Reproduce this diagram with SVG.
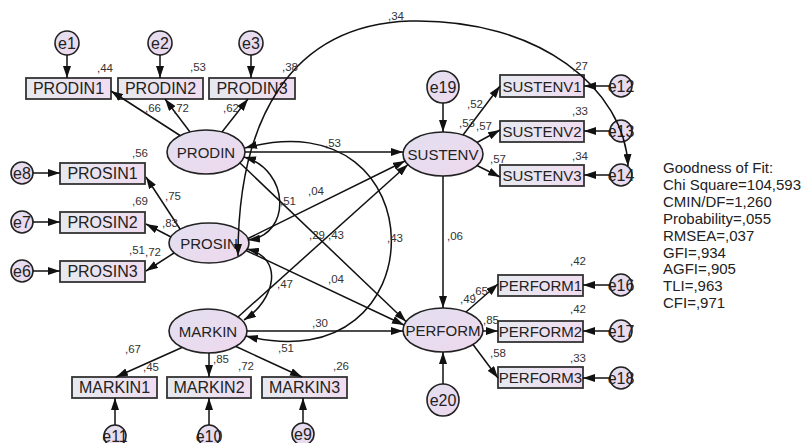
<svg xmlns="http://www.w3.org/2000/svg" width="803" height="443" viewBox="0 0 803 443">
<style>
text{font-family:"Liberation Sans",Arial,sans-serif;fill:#222}
.box{fill:url(#gb);stroke:#333;stroke-width:1.8}
.lat{fill:url(#ge);stroke:#222;stroke-width:1.6}
.err{fill:url(#ge);stroke:#222;stroke-width:1.6}
.bt{font-size:16px;text-anchor:middle;dominant-baseline:central}
.bt2{font-size:15px;text-anchor:middle;dominant-baseline:central}
.lt{font-size:15px;text-anchor:middle;dominant-baseline:central}
.et{font-size:16px;text-anchor:middle;dominant-baseline:central}
.lb{font-size:11.5px;fill:#333}
.gf{font-size:15px;fill:#222}
.c{fill:none;stroke:#111;stroke-width:1.5;marker-end:url(#ah)}
.cv{fill:none;stroke:#111;stroke-width:1.5;marker-end:url(#ah);marker-start:url(#ah)}
</style>
<defs>
<linearGradient id="gb" x1="0" y1="0" x2="1" y2="0"><stop offset="0" stop-color="#e6e9ef"/><stop offset="1" stop-color="#f0dcf0"/></linearGradient>
<linearGradient id="ge" x1="0" y1="0" x2="1" y2="1"><stop offset="0" stop-color="#e2e0f0"/><stop offset="1" stop-color="#efd8ee"/></linearGradient>
<marker id="ah" viewBox="0 0 12 8" refX="12" refY="4" markerWidth="12" markerHeight="8" markerUnits="userSpaceOnUse" orient="auto-start-reverse"><path d="M0,0 L12,4 L0,8 z" fill="#111"/></marker>
</defs>

<g id="nodes">
<g id="PRODIN1"><rect class="box" x="26" y="78" width="85" height="21"/><text class="bt" x="68.5" y="88.5">PRODIN1</text></g>
<g id="PRODIN2"><rect class="box" x="118" y="78" width="85" height="21"/><text class="bt" x="160.5" y="88.5">PRODIN2</text></g>
<g id="PRODIN3"><rect class="box" x="209" y="78" width="86" height="21"/><text class="bt" x="252" y="88.5">PRODIN3</text></g>
<g id="e1"><circle class="err" cx="67" cy="43" r="12"/><text class="et" x="67" y="43">e1</text></g>
<g id="e2"><circle class="err" cx="160" cy="43" r="12"/><text class="et" x="160" y="43">e2</text></g>
<g id="e3"><circle class="err" cx="251" cy="43" r="12"/><text class="et" x="251" y="43">e3</text></g>

<g id="PROSIN1"><rect class="box" x="60" y="163" width="85" height="21"/><text class="bt" x="102.5" y="173.5">PROSIN1</text></g>
<g id="PROSIN2"><rect class="box" x="60" y="212" width="85" height="21"/><text class="bt" x="102.5" y="222.5">PROSIN2</text></g>
<g id="PROSIN3"><rect class="box" x="60" y="261" width="85" height="21"/><text class="bt" x="102.5" y="271.5">PROSIN3</text></g>
<g id="e8"><circle class="err" cx="22" cy="173" r="11"/><text class="et" x="22" y="173">e8</text></g>
<g id="e7"><circle class="err" cx="22" cy="222" r="11"/><text class="et" x="22" y="222">e7</text></g>
<g id="e6"><circle class="err" cx="22" cy="271" r="11"/><text class="et" x="22" y="271">e6</text></g>

<g id="MARKIN1"><rect class="box" x="72" y="377" width="85" height="21"/><text class="bt" x="114.5" y="387.5">MARKIN1</text></g>
<g id="MARKIN2"><rect class="box" x="167" y="377" width="84" height="21"/><text class="bt" x="209" y="387.5">MARKIN2</text></g>
<g id="MARKIN3"><rect class="box" x="262" y="377" width="85" height="21"/><text class="bt" x="304.5" y="387.5">MARKIN3</text></g>
<g id="e11"><circle class="err" cx="115" cy="436" r="11"/><text class="et" x="115" y="436">e11</text></g>
<g id="e10"><circle class="err" cx="209" cy="436" r="11"/><text class="et" x="209" y="436">e10</text></g>
<g id="e9"><circle class="err" cx="303" cy="434" r="11"/><text class="et" x="303" y="434">e9</text></g>

<g id="SUSTENV1"><rect class="box" x="500" y="75" width="84" height="22"/><text class="bt2" x="542" y="86">SUSTENV1</text></g>
<g id="SUSTENV2"><rect class="box" x="500" y="121" width="84" height="21"/><text class="bt2" x="542" y="131.5">SUSTENV2</text></g>
<g id="SUSTENV3"><rect class="box" x="500" y="165" width="84" height="21"/><text class="bt2" x="542" y="175.5">SUSTENV3</text></g>
<g id="e12"><circle class="err" cx="621" cy="86" r="11"/><text class="et" x="621" y="86">e12</text></g>
<g id="e13"><circle class="err" cx="621" cy="131" r="11"/><text class="et" x="621" y="131">e13</text></g>
<g id="e14"><circle class="err" cx="621" cy="175" r="11"/><text class="et" x="621" y="175">e14</text></g>

<g id="PERFORM1"><rect class="box" x="498" y="275" width="85" height="21"/><text class="bt2" x="540.5" y="285.5">PERFORM1</text></g>
<g id="PERFORM2"><rect class="box" x="498" y="321" width="85" height="21"/><text class="bt2" x="540.5" y="331.5">PERFORM2</text></g>
<g id="PERFORM3"><rect class="box" x="498" y="367" width="85" height="21"/><text class="bt2" x="540.5" y="377.5">PERFORM3</text></g>
<g id="e16"><circle class="err" cx="621" cy="285" r="11"/><text class="et" x="621" y="285">e16</text></g>
<g id="e17"><circle class="err" cx="621" cy="331" r="11"/><text class="et" x="621" y="331">e17</text></g>
<g id="e18"><circle class="err" cx="621" cy="378" r="11"/><text class="et" x="621" y="378">e18</text></g>

<g id="PRODIN"><ellipse class="lat" cx="206" cy="152" rx="39" ry="22"/><text class="lt" x="206" y="152">PRODIN</text></g>
<g id="PROSIN"><ellipse class="lat" cx="209" cy="243" rx="40" ry="20"/><text class="lt" x="209" y="243">PROSIN</text></g>
<g id="MARKIN"><ellipse class="lat" cx="208" cy="331" rx="39" ry="22"/><text class="lt" x="208" y="331">MARKIN</text></g>
<g id="SUSTENV"><ellipse class="lat" cx="443" cy="154" rx="40" ry="22"/><text class="lt" x="443" y="154">SUSTENV</text></g>
<g id="PERFORM"><ellipse class="lat" cx="443" cy="330" rx="40" ry="22"/><text class="lt" x="443" y="330">PERFORM</text></g>
<g id="e19"><circle class="err" cx="443" cy="87" r="16"/><text class="et" x="443" y="87">e19</text></g>
<g id="e20"><circle class="err" cx="443" cy="400" r="16"/><text class="et" x="443" y="400">e20</text></g>
</g>

<g id="connectors">
<line class="c" x1="67" y1="55" x2="67" y2="78"/>
<line class="c" x1="160" y1="55" x2="160" y2="78"/>
<line class="c" x1="251" y1="55" x2="251" y2="78"/>
<line class="c" x1="180" y1="135.5" x2="111" y2="91"/>
<line class="c" x1="190" y1="132" x2="165" y2="99"/>
<line class="c" x1="222" y1="132" x2="248" y2="99"/>
<line class="c" x1="180" y1="229" x2="146" y2="177"/>
<line class="c" x1="171" y1="237" x2="146" y2="224"/>
<line class="c" x1="174" y1="253" x2="146" y2="271"/>
<line class="c" x1="33" y1="173" x2="60" y2="173"/>
<line class="c" x1="33" y1="222" x2="60" y2="222"/>
<line class="c" x1="33" y1="271" x2="60" y2="271"/>
<line class="c" x1="182" y1="347.5" x2="116" y2="377"/>
<line class="c" x1="209" y1="353" x2="209" y2="377"/>
<line class="c" x1="236" y1="346.5" x2="302" y2="377"/>
<line class="c" x1="115" y1="425" x2="115" y2="398"/>
<line class="c" x1="209" y1="425" x2="209" y2="398"/>
<line class="c" x1="303" y1="423" x2="303" y2="398"/>
<line class="c" x1="443" y1="103" x2="443" y2="132"/>
<line class="c" x1="443" y1="384" x2="443" y2="352"/>
<line class="c" x1="463" y1="135" x2="500" y2="86"/>
<line class="c" x1="477" y1="142.5" x2="500" y2="130"/>
<line class="c" x1="477" y1="165.5" x2="500" y2="177"/>
<line class="c" x1="610" y1="86" x2="584" y2="86"/>
<line class="c" x1="610" y1="131" x2="584" y2="131"/>
<line class="c" x1="610" y1="175" x2="584" y2="175"/>
<line class="c" x1="443" y1="176" x2="443" y2="308"/>
<line class="c" x1="466" y1="312" x2="498" y2="284"/>
<line class="c" x1="483" y1="331" x2="498" y2="331"/>
<line class="c" x1="473" y1="344.5" x2="498" y2="378"/>
<line class="c" x1="610" y1="285" x2="583" y2="285"/>
<line class="c" x1="610" y1="331" x2="583" y2="331"/>
<line class="c" x1="610" y1="378" x2="583" y2="378"/>
<line class="c" x1="245" y1="152" x2="403" y2="152"/>
<line class="c" x1="240" y1="163" x2="406" y2="321.5"/>
<line class="c" x1="248" y1="238.5" x2="405" y2="161"/>
<line class="c" x1="246" y1="250.5" x2="404" y2="325"/>
<line class="c" x1="238" y1="317" x2="408" y2="164.5"/>
<line class="c" x1="247" y1="331" x2="403" y2="331"/>
<path class="cv" d="M244,157 C290,170 292,235 248,240"/>
<path class="cv" d="M245,148 C440,95 440,385 246,336"/>
<path class="cv" d="M247,249 C285,258 275,300 244,320"/>
<path class="cv" d="M628,166 C625,90 540,18 410,21 C290,25 238,120 238,256"/>
</g>

<g id="labels">
<text class="lb" x="97" y="72">,44</text>
<text class="lb" x="190" y="71">,53</text>
<text class="lb" x="282" y="71">,38</text>
<text class="lb" x="145" y="112">,66</text>
<text class="lb" x="173" y="112">,72</text>
<text class="lb" x="223" y="112">,62</text>
<text class="lb" x="388" y="20">,34</text>
<text class="lb" x="467" y="108">,52</text>
<text class="lb" x="459" y="127">,53</text>
<text class="lb" x="476" y="130">,57</text>
<text class="lb" x="490" y="163">,57</text>
<text class="lb" x="572" y="70">,27</text>
<text class="lb" x="572" y="115">,33</text>
<text class="lb" x="572" y="160">,34</text>
<text class="lb" x="132" y="157">,56</text>
<text class="lb" x="132" y="205">,69</text>
<text class="lb" x="165" y="200">,75</text>
<text class="lb" x="162" y="227">,83</text>
<text class="lb" x="129" y="254">,51</text>
<text class="lb" x="145" y="256">,72</text>
<text class="lb" x="325" y="147">,53</text>
<text class="lb" x="308" y="195">,04</text>
<text class="lb" x="280" y="205">,51</text>
<text class="lb" x="309" y="239">,29</text>
<text class="lb" x="328" y="239">,43</text>
<text class="lb" x="387" y="242">,43</text>
<text class="lb" x="447" y="240">,06</text>
<text class="lb" x="328" y="283">,04</text>
<text class="lb" x="277" y="288">,47</text>
<text class="lb" x="312" y="327">,30</text>
<text class="lb" x="278" y="352">,51</text>
<text class="lb" x="125" y="353">,67</text>
<text class="lb" x="143" y="371">,45</text>
<text class="lb" x="213" y="363">,85</text>
<text class="lb" x="238" y="370">,72</text>
<text class="lb" x="333" y="370">,26</text>
<text class="lb" x="460" y="303">,49</text>
<text class="lb" x="472" y="295">,65</text>
<text class="lb" x="483" y="324">,85</text>
<text class="lb" x="490" y="357">,58</text>
<text class="lb" x="570" y="265">,42</text>
<text class="lb" x="570" y="313">,42</text>
<text class="lb" x="570" y="362">,33</text>
</g>

<g id="fit">
<text class="gf" x="663" y="173">Goodness of Fit:</text>
<text class="gf" x="663" y="190">Chi Square=104,593</text>
<text class="gf" x="663" y="207">CMIN/DF=1,260</text>
<text class="gf" x="663" y="224">Probability=,055</text>
<text class="gf" x="663" y="241">RMSEA=,037</text>
<text class="gf" x="663" y="258">GFI=,934</text>
<text class="gf" x="663" y="274">AGFI=,905</text>
<text class="gf" x="663" y="291">TLI=,963</text>
<text class="gf" x="663" y="308">CFI=,971</text>
</g>
</svg>
